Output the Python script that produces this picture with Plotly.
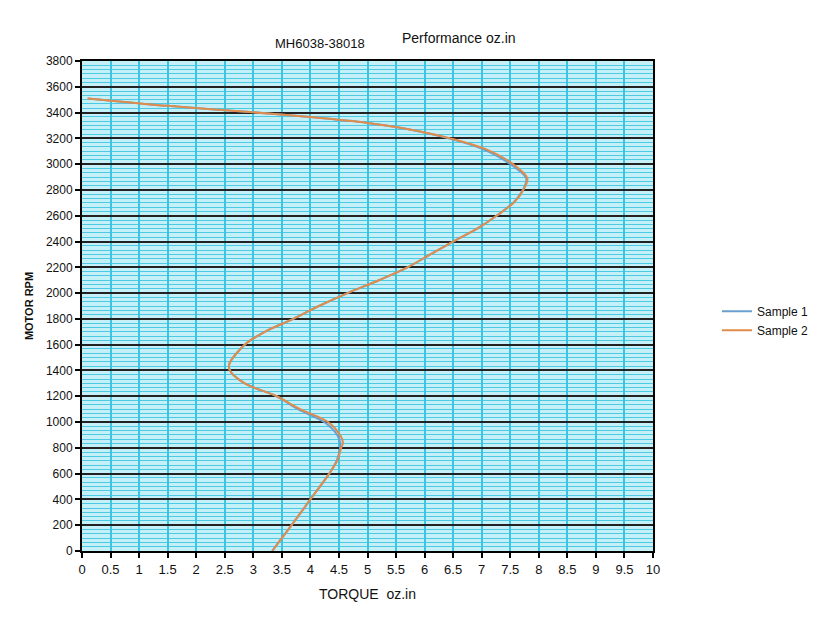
import plotly.graph_objects as go

# Sample 2 (torque oz.in, rpm)
torque_s2 = [0.1, 1.5, 3.0, 4.0, 5.0, 5.6, 6.45, 7.05, 7.55, 7.8, 7.73, 7.56, 7.26, 6.92, 6.5, 6.1, 5.7, 5.2, 4.65, 4.15, 3.7, 3.2, 2.85, 2.58, 2.59, 2.85, 3.41, 3.82, 4.31, 4.52, 4.57, 4.54, 4.47, 4.33, 4.0, 3.67, 3.33]
rpm_s2 = [3510, 3452, 3402, 3365, 3320, 3280, 3200, 3120, 3000, 2890, 2800, 2700, 2600, 2500, 2400, 2300, 2200, 2100, 2000, 1900, 1800, 1700, 1600, 1450, 1400, 1300, 1200, 1100, 1000, 900, 840, 800, 700, 600, 400, 200, 0]

# Sample 1 (nearly identical)
torque_s1 = [0.1, 1.5, 3.0, 4.0, 5.0, 5.6, 6.42, 7.0, 7.5, 7.78, 7.72, 7.55, 7.26, 6.92, 6.5, 6.1, 5.7, 5.2, 4.65, 4.15, 3.7, 3.2, 2.85, 2.58, 2.59, 2.85, 3.41, 3.78, 4.24, 4.47, 4.52, 4.52, 4.46, 4.33, 4.0, 3.67, 3.33]
rpm_s1 = [3510, 3452, 3402, 3365, 3320, 3280, 3200, 3120, 3000, 2890, 2800, 2700, 2600, 2500, 2400, 2300, 2200, 2100, 2000, 1900, 1800, 1700, 1600, 1450, 1400, 1300, 1200, 1100, 1000, 900, 840, 800, 700, 600, 400, 200, 0]

x_ticks = [0, 0.5, 1, 1.5, 2, 2.5, 3, 3.5, 4, 4.5, 5, 5.5, 6, 6.5, 7, 7.5, 8, 8.5, 9, 9.5, 10]
x_labels = ["0", "0.5", "1", "1.5", "2", "2.5", "3", "3.5", "4", "4.5", "5", "5.5", "6", "6.5", "7", "7.5", "8", "8.5", "9", "9.5", "10"]
y_ticks = list(range(0, 3801, 200))

FONT = "Liberation Sans, Arial, sans-serif"

fig = go.Figure()
fig.add_trace(go.Scatter(x=torque_s1, y=rpm_s1, mode="lines", name="Sample 1",
                         line=dict(color="#6a9fd0", width=2, shape="spline", smoothing=0.9)))
fig.add_trace(go.Scatter(x=torque_s2, y=rpm_s2, mode="lines", name="Sample 2",
                         line=dict(color="#e08c4c", width=2, shape="spline", smoothing=0.9)))

fig.update_layout(
    width=830, height=635,
    margin=dict(l=74, r=185, t=53, b=92, autoexpand=False),
    paper_bgcolor="white",
    plot_bgcolor="#c6f0f8",
    font=dict(family=FONT, size=12, color="#111"),
    showlegend=True,
    legend=dict(x=1.112, y=0.47, xanchor="left", yanchor="middle",
                font=dict(size=12, family=FONT), bgcolor="rgba(0,0,0,0)",
                tracegroupgap=4, itemwidth=30),
    xaxis=dict(range=[0, 10], tickvals=x_ticks, ticktext=x_labels, automargin=False,
               showgrid=True, gridcolor="#3cc4e0", gridwidth=1.5,
               showline=True, linecolor="black", linewidth=2, mirror=True,
               ticks="outside", ticklen=5, tickcolor="black", tickwidth=1.5,
               tickfont=dict(size=13, family=FONT),
               zeroline=False,
               title=dict(text="TORQUE&nbsp;&nbsp;oz.in", font=dict(size=14, family=FONT), standoff=14)),
    yaxis=dict(range=[0, 3800], tickvals=y_ticks, automargin=False,
               showgrid=True, gridcolor="#222", gridwidth=1.5,
               showline=True, linecolor="black", linewidth=2, mirror=True,
               ticks="outside", ticklen=5, tickcolor="black", tickwidth=1.5,
               tickfont=dict(size=12, family=FONT),
               zeroline=False,
               minor=dict(dtick=200 / 6, showgrid=True, gridcolor="#4ccae4", gridwidth=1.3, ticks=""),
               title=dict(text="<b>MOTOR RPM</b>", font=dict(size=11, family=FONT), standoff=10)),
)

fig.add_annotation(text="MH6038-38018", x=(320 - 82) / 571, y=(551 - 43) / 490,
                   xref="paper", yref="paper", showarrow=False,
                   xanchor="center", yanchor="middle",
                   font=dict(size=13, family=FONT, color="#111"))
fig.add_annotation(text="Performance oz.in", x=(459 - 82) / 571, y=(551 - 38) / 490,
                   xref="paper", yref="paper", showarrow=False,
                   xanchor="center", yanchor="middle",
                   font=dict(size=14, family=FONT, color="#111"))

fig.write_html("out.html")
